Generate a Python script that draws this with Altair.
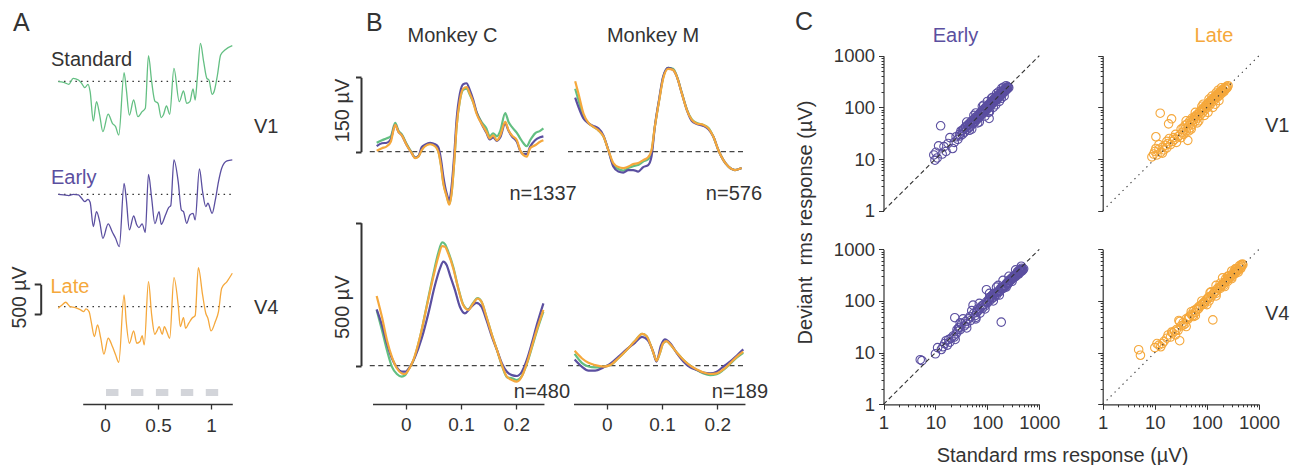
import altair as alt
import pandas as pd

# ---------------- Panel A: single-site example traces (time s, amplitude uV) ----------------
a_std_t = [-0.44, -0.39, -0.34, -0.30, -0.25, -0.22, -0.19, -0.16, -0.14, -0.11, -0.08, -0.05, -0.02, 0.03, 0.07,
           0.10, 0.13, 0.18, 0.20, 0.23, 0.27, 0.31, 0.35, 0.38, 0.41, 0.44, 0.47, 0.50, 0.53, 0.55,
           0.58, 0.61, 0.65, 0.70, 0.74, 0.77, 0.80, 0.83, 0.85, 0.87, 0.90, 0.93, 0.96, 0.98, 1.01,
           1.03, 1.06, 1.09, 1.13, 1.20]
a_std_v = [-6, -17, -51, 50, 22, -34, -107, -51, -175, -669, -343, -568, -848, -551, -708,
           -764, -904, 145, -118, -568, -315, -596, -511, -455, 432, -6, -332, -371, -612, -568,
           -416, -556, 218, -342, -163, -371, -343, -130, -315, 50, 639, 331, 50, 22, -219,
           -163, 106, 443, 527, 600]
a_early_t = [-0.44, -0.39, -0.34, -0.30, -0.25, -0.22, -0.19, -0.16, -0.14, -0.11, -0.08, -0.05, -0.02, 0.03, 0.07,
             0.10, 0.135, 0.18, 0.20, 0.23, 0.27, 0.30, 0.32, 0.35, 0.38, 0.41, 0.44, 0.47, 0.51, 0.53,
             0.57, 0.60, 0.62, 0.65, 0.69, 0.72, 0.74, 0.77, 0.80, 0.83, 0.85, 0.89, 0.92, 0.95, 0.97,
             1.01, 1.04, 1.07, 1.10, 1.15, 1.20]
a_early_v = [0, -11, -22, 0, -11, -67, -123, -84, -135, -544, -292, -460, -741, -499, -640,
             -741, -881, 185, -67, -600, -365, -516, -561, -499, -640, 337, -67, -494, -292, -505,
             -348, -224, -191, 578, 213, -264, -292, -488, -348, -320, -432, 426, 45, -208, -151,
             -320, -95, 213, 438, 561, 578]
a_late_t = [-0.44, -0.41, -0.37, -0.33, -0.28, -0.23, -0.20, -0.18, -0.15, -0.13, -0.10, -0.07, -0.04, -0.01, 0.03,
            0.07, 0.10, 0.13, 0.18, 0.20, 0.23, 0.27, 0.30, 0.33, 0.35, 0.37, 0.41, 0.44, 0.47, 0.49,
            0.51, 0.54, 0.56, 0.58, 0.61, 0.65, 0.69, 0.71, 0.74, 0.76, 0.79, 0.82, 0.85, 0.88, 0.92,
            0.95, 0.97, 1.00, 1.04, 1.07, 1.10, 1.15, 1.20]
a_late_v = [-28, 17, 73, 0, -17, -56, -84, -39, -84, -252, -505, -309, -533, -802, -533,
            -673, -813, -937, 196, -252, -617, -410, -617, -589, -488, -645, 421, -140, -466, -410,
            -337, -466, -337, -410, -533, 488, 28, -337, -185, -365, -280, -196, -151, 656, 196,
            -112, -196, -410, -252, -84, 309, 421, 561]
stim_on = [0.01, 0.245, 0.48, 0.715, 0.95]
stim_off = [0.127, 0.362, 0.597, 0.832, 1.067]
a_ticks = [0, 0.5, 1]

# ---------------- Panel B: average evoked responses (time s, uV) ----------------
bc1_t = [-0.0525, -0.043, -0.034, -0.027, -0.019, -0.013, -0.007, 0.002, 0.011, 0.017, 0.023, 0.029, 0.035, 0.044,
         0.053, 0.059, 0.064, 0.068, 0.074, 0.079, 0.083, 0.088, 0.092, 0.098, 0.104, 0.110, 0.116, 0.122,
         0.128, 0.137, 0.146, 0.152, 0.158, 0.165, 0.171, 0.180, 0.186, 0.192, 0.201, 0.207, 0.213, 0.219,
         0.225, 0.234, 0.243, 0.249]
bc1_std = [18, 23, 27, 31, 58, 42, 35, 15, -2, -12, -9, 4, 12, 16, 12, 1, -28, -62, -88, -105,
           -83, -16, 50, 103, 125, 127, 115, 100, 80, 60, 47, 31, 37, 31, 42, 78, 60, 50, 38, 27,
           17, 11, 23, 37, 42, 47]
bc1_early = [11, 17, 18, 25, 54, 40, 33, 13, -3, -12, -9, 9, 14, 18, 15, 9, -17, -50, -84, -97,
             -70, -3, 64, 117, 136, 138, 124, 105, 80, 57, 38, 25, 29, 22, 29, 57, 42, 31, 20, 2,
             -5, -5, 10, 23, 29, 31]
bc1_late = [2, 7, 11, 20, 54, 40, 33, 13, -3, -13, -10, 3, 11, 15, 11, 0, -30, -64, -90, -107,
            -84, -17, 50, 104, 127, 130, 117, 100, 77, 57, 40, 27, 33, 23, 33, 60, 43, 33, 23, 3,
            -7, -10, 7, 13, 20, 23]

bm1_t = [-0.057, -0.051, -0.042, -0.033, -0.024, -0.015, -0.006, 0.003, 0.012, 0.021, 0.030, 0.039, 0.048, 0.057,
         0.066, 0.075, 0.081, 0.087, 0.095, 0.102, 0.111, 0.120, 0.127, 0.136, 0.145, 0.154, 0.163, 0.175,
         0.184, 0.193, 0.202, 0.211, 0.220, 0.232, 0.244]
bm1_std = [127, 104, 70, 58, 50, 43, 31, 3, -27, -35, -38, -33, -29, -27, -20, -15, 0, 50, 105, 149,
           169, 167, 152, 118, 85, 65, 58, 54, 48, 30, 3, -17, -30, -37, -33]
bm1_early = [109, 90, 67, 57, 52, 47, 33, 3, -30, -40, -42, -37, -37, -40, -31, -27, -10, 50, 107, 151,
             169, 165, 151, 117, 84, 62, 56, 52, 45, 30, 3, -17, -30, -37, -33]
bm1_late = [142, 117, 77, 58, 50, 43, 31, 3, -23, -31, -33, -30, -25, -23, -17, -11, 3, 50, 104, 147,
            167, 165, 151, 117, 84, 64, 57, 54, 47, 30, 3, -17, -30, -37, -33]

bc4_t = [-0.0525, -0.043, -0.034, -0.025, -0.016, -0.007, -0.001, 0.005, 0.014, 0.026, 0.038, 0.050, 0.059,
         0.066, 0.071, 0.077, 0.086, 0.095, 0.104, 0.113, 0.122, 0.130, 0.137, 0.146, 0.156, 0.165,
         0.174, 0.183, 0.192, 0.201, 0.210, 0.219, 0.228, 0.237, 0.249]
bc4_std = [195, 125, 55, -3, -29, -38, -33, -13, 18, 100, 210, 320, 395, 431, 425, 398, 345, 272, 214,
           197, 220, 236, 224, 171, 107, 55, 0, -40, -44, -50, -36, 6, 62, 120, 189]
bc4_late = [244, 171, 90, 31, -9, -27, -29, -15, 20, 101, 206, 311, 381, 418, 416, 392, 340, 270, 212,
            195, 218, 235, 224, 171, 107, 55, 2, -38, -50, -56, -38, 8, 66, 125, 195]
bc4e_t = [-0.0525, -0.043, -0.034, -0.025, -0.016, -0.007, -0.001, 0.008, 0.017, 0.029, 0.041, 0.053, 0.062,
          0.068, 0.074, 0.080, 0.089, 0.098, 0.107, 0.116, 0.128, 0.137, 0.146, 0.156, 0.165, 0.174,
          0.183, 0.192, 0.201, 0.210, 0.219, 0.228, 0.237, 0.249]
bc4_early = [197, 142, 78, 26, -6, -21, -21, -3, 31, 96, 183, 282, 340, 364, 352, 317, 265, 206, 183,
             200, 220, 206, 160, 101, 55, 8, -21, -33, -36, -21, 20, 78, 142, 218]

bm4_t = [-0.058, -0.045, -0.033, -0.021, -0.006, 0.006, 0.021, 0.036, 0.051, 0.064, 0.072, 0.080, 0.087,
         0.090, 0.096, 0.102, 0.108, 0.116, 0.127, 0.139, 0.151, 0.163, 0.175, 0.187, 0.199, 0.211,
         0.223, 0.235, 0.247]
bm4_std = [41, 10, -3, -6, -3, 2, 26, 55, 86, 111, 104, 69, 31, 17, 43, 78, 86, 72, 45, 20, 0, -15,
           -27, -33, -30, -15, 6, 28, 45]
bm4_late = [52, 26, 10, 2, -3, 2, 26, 55, 86, 111, 104, 69, 31, 17, 43, 78, 86, 72, 45, 20, 0, -13,
            -24, -29, -27, -13, 8, 31, 49]
bm4e_t = [-0.058, -0.045, -0.033, -0.021, -0.006, 0.006, 0.021, 0.036, 0.051, 0.064, 0.074, 0.084, 0.090,
          0.098, 0.105, 0.116, 0.127, 0.139, 0.151, 0.163, 0.175, 0.187, 0.199, 0.211, 0.223, 0.235, 0.247]
bm4_early = [22, -3, -17, -17, -6, 6, 31, 57, 80, 101, 90, 49, 14, 70, 92, 76, 43, 14, -6, -15, -24,
             -27, -21, -3, 14, 35, 57]
b_ticks = [0, 0.1, 0.2]

# ---------------- Panel C: rms responses, standard vs deviant (uV) ----------------
ev1_x = [9.3, 9.8, 10.2, 10.8, 11.5, 12.6, 13.5, 14.6, 16, 17.5, 19, 21.4, 23, 25, 27, 29, 31, 33, 35, 36,
         38, 40, 42, 44, 46, 48, 50, 52, 55, 58, 60, 63, 66, 70, 73, 76, 80, 84, 88, 92, 96, 100, 105, 108,
         110, 115, 120, 125, 130, 135, 140, 145, 150, 155, 160, 166, 172, 178, 185, 190, 196, 202, 210, 218,
         225, 232, 240, 250, 258, 45, 65, 90, 130, 170, 210, 30, 55, 75, 140, 200, 33, 37, 41, 45, 49, 53,
         57, 62, 67, 72, 78, 83, 87, 93, 98, 103, 113, 118, 123, 128, 133, 143, 148, 158, 163, 175, 182, 195,
         205, 215, 228, 235, 245, 40, 50, 60, 70, 80, 90, 100, 110, 120, 130, 150, 170, 190, 210, 230,
         45, 55, 65, 85, 105, 125, 145, 165, 185, 205]
ev1_y = [12, 9.5, 13.5, 10.5, 18, 44, 12.5, 17.4, 14, 20, 26, 16, 21, 27, 24, 30, 35, 30, 38, 33,
         42, 37, 46, 40, 50, 44, 55, 48, 58, 53, 65, 58, 70, 64, 78, 72, 88, 78, 95, 86, 104, 95, 112, 61,
         102, 125, 112, 135, 122, 148, 130, 155, 140, 168, 150, 175, 160, 190, 172, 200, 185, 215, 198, 225,
         210, 238, 225, 245, 240, 47, 62, 90, 135, 170, 212, 28, 52, 80, 142, 195, 36, 40, 44, 42, 52, 50,
         62, 60, 66, 75, 76, 86, 84, 98, 92, 108, 110, 122, 120, 130, 138, 140, 150, 160, 165, 178, 185, 200,
         205, 218, 225, 232, 250, 52, 38, 78, 52, 105, 68, 130, 82, 150, 100, 185, 130, 235, 165, 262,
         36, 70, 50, 110, 80, 155, 112, 200, 150, 245]
lv1_x = [8.8, 9.5, 10, 10.5, 10.5, 11, 12, 12.7, 13, 14, 15, 16, 17, 18, 18.4, 20, 21, 22, 24, 26,
         28, 30, 32, 34, 36, 38, 40, 43, 45, 48, 50, 53, 56, 60, 63, 66, 70, 74, 78, 82,
         86, 90, 95, 100, 105, 110, 115, 120, 126, 132, 138, 145, 152, 160, 168, 176, 185, 195, 205, 215,
         225, 235, 245, 255, 35, 60, 100, 150, 200, 25, 32, 38, 42, 47, 52, 58, 64, 72, 80, 88,
         98, 108, 118, 130, 142, 155, 170, 185, 200, 220, 240, 12, 14, 17, 23, 19,
         40, 50, 60, 70, 80, 90, 110, 130, 150, 170, 190, 45, 65, 85, 105, 125, 145, 165]
lv1_y = [11, 12.5, 14, 16, 27, 12, 15.5, 77, 13.5, 17, 15, 18.5, 16.5, 20, 48, 19, 60, 22, 24, 21,
         27, 29, 26, 33, 30, 38, 35, 23, 44, 40, 52, 47, 58, 54, 68, 62, 75, 70, 85, 78,
         95, 88, 105, 98, 118, 108, 130, 120, 140, 132, 155, 145, 165, 158, 180, 170, 195, 188, 210, 205,
         225, 230, 240, 262, 40, 66, 110, 160, 215, 30, 38, 45, 48, 55, 62, 65, 72, 82, 90, 100,
         112, 122, 135, 148, 160, 175, 190, 205, 222, 240, 255, 19, 13, 22, 26, 25,
         55, 38, 80, 55, 105, 70, 145, 100, 190, 135, 240, 35, 50, 115, 80, 165, 115, 215]
ev4_x = [5.1, 5.5, 10, 11, 13, 14, 15, 16, 17, 18, 19, 20, 22, 23.6, 24, 25, 27, 28, 30, 32,
         34, 36, 38, 40, 43, 46, 48, 53, 55, 58, 60, 62, 66, 70, 72, 75, 80, 85, 90, 96,
         95, 100, 105, 110, 115, 120, 125, 130, 135, 140, 150, 160, 162, 170, 180, 185, 190, 200, 210, 220,
         230, 240, 250, 260, 275, 290, 300, 320, 340, 360, 380, 400, 420, 440, 460, 480, 500, 350, 300, 250,
         200, 220, 240, 260, 280, 300, 320, 340, 360, 380, 400, 420, 440, 460, 480, 380, 420, 460, 150, 170,
         190, 125, 140, 110, 80, 65, 23, 26, 29, 30, 40, 50, 60, 70, 90, 110, 130, 150, 170, 200, 230, 260,
         300, 350, 400, 450]
ev4_y = [7.3, 7, 9.5, 12.5, 11.5, 13, 15, 17, 14, 18, 16, 19, 21, 47.5, 18, 23, 26, 30, 28, 36,
         45, 33, 40, 36, 45, 50, 42, 83, 58, 52, 45, 60, 64, 70, 58, 76, 72, 85, 80, 165,
         95, 92, 105, 100, 120, 110, 115, 135, 120, 130, 145, 150, 200, 160, 175, 39, 170, 190, 185, 200,
         215, 225, 230, 250, 255, 275, 270, 300, 310, 330, 350, 360, 380, 390, 400, 410, 420, 300, 280, 215,
         175, 190, 210, 230, 250, 265, 285, 295, 310, 330, 340, 360, 370, 380, 395, 370, 400, 430, 130, 150,
         180, 130, 140, 115, 82, 70, 20, 28, 31, 38, 30, 65, 48, 90, 70, 140, 100, 185, 130, 250, 185, 300,
         240, 400, 330, 470]
lv4_x = [4.9, 5.3, 10, 11, 12, 13, 14, 15, 17, 18, 20, 21, 22, 24, 25, 26, 28, 30, 29, 32,
         35, 38, 40, 43, 46, 50, 53, 56, 60, 63, 66, 70, 75, 80, 85, 90, 95, 100, 105, 110,
         115, 120, 125, 130, 135, 140, 150, 160, 170, 180, 190, 200, 215, 230, 245, 260, 280, 300, 320, 340,
         360, 380, 400, 430, 460, 490, 150, 200, 250, 300, 350, 150, 180, 210, 250, 300, 350, 400, 450, 480,
         420, 380, 330, 270, 230, 110, 90, 70, 55, 45, 35, 30, 40, 50, 60, 80, 100, 120, 150, 180, 220, 260,
         300, 350, 400, 450]
lv4_y = [11.4, 8.9, 12.5, 15, 14, 13, 15, 16.5, 19, 22, 20, 25, 24, 26, 22, 28, 27, 17, 42, 33,
         38, 36, 45, 44, 50, 55, 52, 65, 60, 70, 68, 78, 80, 85, 92, 95, 100, 108, 115, 120,
         145, 118, 130, 43, 140, 150, 155, 175, 180, 190, 200, 210, 225, 240, 260, 270, 290, 310, 330, 350,
         370, 390, 410, 440, 470, 500, 200, 280, 300, 380, 420, 140, 175, 200, 240, 290, 340, 390, 430, 520,
         480, 420, 370, 310, 270, 100, 88, 72, 50, 48, 34, 40, 32, 62, 52, 100, 85, 150, 125, 220, 190, 300,
         270, 410, 360, 500]
diag = [1, 1000]
major_ticks = [1, 10, 100, 1000]
minor_ticks = [2, 3, 4, 5, 6, 7, 8, 9, 20, 30, 40, 50, 60, 70, 80, 90, 200, 300, 400, 500, 600, 700, 800, 900]

# ---------------- layout helpers (page pixels -> view pixels) ----------------
W, H = 1286, 457
def X(p):
    return p - 8
def Y(p):
    return p - 8

FONT = "Liberation Sans"
INK = "#333333"
C_STD = "#63bf82"
C_EAR = "#5b4fa0"
C_LAT = "#f5a83c"
GRAY = "#d3d5da"
ONE = pd.DataFrame({"k": [0]})

layers = []


def lin(domain, rng):
    return alt.Scale(domain=domain, range=rng, zero=False, nice=False)


def logsc(rng):
    return alt.Scale(type="log", domain=[1, 1000], range=rng, nice=False)


def txt(s, px, py, size=20, color=INK, align="left", baseline="alphabetic"):
    layers.append(alt.Chart(pd.DataFrame({"s": [s]})).mark_text(
        align=align, baseline=baseline, fontSize=size, color=color, font=FONT
    ).encode(text="s:N", x=alt.value(X(px)), y=alt.value(Y(py))))


def hrule(x0, x1, dash, xs, ys, width=1.2, color=INK):
    layers.append(alt.Chart(ONE).mark_rule(color=color, strokeDash=dash, strokeWidth=width).encode(
        x=alt.XDatum(x0, scale=xs, axis=None), x2=alt.X2Datum(x1), y=alt.YDatum(0, scale=ys, axis=None)))


def trace(t, v, color, xs, ys, width, xaxis=None, yaxis=None):
    layers.append(alt.Chart(pd.DataFrame({"t": t, "v": v})).mark_line(
        color=color, strokeWidth=width, interpolate="monotone"
    ).encode(x=alt.X("t:Q", scale=xs, axis=xaxis), y=alt.Y("v:Q", scale=ys, axis=yaxis)))


def bracket_axis(x_px, vals, title, title_dx, title_cy, tick, tsize=20):
    return alt.Axis(orient="left", offset=-X(x_px), values=vals, labels=False, tickSize=tick,
                    tickWidth=2, domainWidth=2, title=title, titleX=title_dx, titleY=Y(title_cy),
                    titleAngle=270, titleAlign="center", titleBaseline="middle", titleFontSize=tsize,
                    titleFontWeight="normal", titleColor=INK)


def time_axis(vals, pad):
    return alt.Axis(orient="bottom", offset=Y(404) - H, values=vals, format="~g", tickSize=5,
                    labelPadding=pad, labelFontSize=19, labelFlush=False, labelOverlap=False,
                    title=None, domainWidth=1.3, tickWidth=1.3)


# ---------------- Panel A ----------------
A_PX = 29.7  # pixels per 500 uV


def a_xs():
    return lin([-0.21, 1.2], [X(82.7), X(232.3)])


for t, v, col, base in [(a_std_t, a_std_v, C_STD, 81.3), (a_early_t, a_early_v, C_EAR, 194.3)]:
    ys = lin([-500, 500], [Y(base) + A_PX, Y(base) - A_PX])
    hrule(-0.44, 1.2, [1.5, 4.2], a_xs(), ys)
    trace(t, v, col, a_xs(), ys, 1.3)

late_ys = lin([-125, 375], [Y(314), Y(284.3)])
hrule(-0.44, 1.2, [1.5, 4.2], a_xs(), late_ys)
trace(a_late_t, a_late_v, C_LAT, a_xs(), late_ys, 1.3,
      xaxis=time_axis(a_ticks, 7),
      yaxis=bracket_axis(40.7, [-125, 375], "500 µV", 19.5 - 40.7, 297, 6.5, tsize=19.5))
layers.append(alt.Chart(pd.DataFrame({"on": stim_on, "off": stim_off})).mark_rect(color=GRAY).encode(
    x=alt.X("on:Q", scale=a_xs(), axis=None), x2="off:Q", y=alt.value(Y(389)), y2=alt.value(Y(396))))

# ---------------- Panel B ----------------
B_SLOPE = 553.0


def b_panel(series, zero_px, base_py, top_py, vtop, dash_x, bracket=None, xaxis=False):
    def xs():
        return lin([-0.06, 0.25], [X(zero_px - 0.06 * B_SLOPE), X(zero_px + 0.25 * B_SLOPE)])

    def ys():
        return lin([0, vtop], [Y(base_py), Y(top_py)])
    hrule(dash_x[0], dash_x[1], [5, 3.5], xs(), ys(), color="#444444")
    first = True
    for t, v, color in series:
        yax = None
        xax = None
        if first and bracket is not None:
            yax = bracket_axis(361, [0, vtop], bracket[0], -19, bracket[1], 5.5)
        if first and xaxis:
            xax = time_axis(b_ticks, 6)
        trace(t, v, color, xs(), ys(), 2.2, xaxis=xax, yaxis=yax)
        first = False


b_panel([(bc1_t, bc1_std, C_STD), (bc1_t, bc1_early, C_EAR), (bc1_t, bc1_late, C_LAT)],
        405.7, 151.7, 77.3, 150, [-0.065, 0.25], bracket=("150 µV", 110))
b_panel([(bm1_t, bm1_std, C_STD), (bm1_t, bm1_early, C_EAR), (bm1_t, bm1_late, C_LAT)],
        606.7, 151.7, 77.3, 150, [-0.07, 0.247])
b_panel([(bc4_t, bc4_std, C_STD), (bc4e_t, bc4_early, C_EAR), (bc4_t, bc4_late, C_LAT)],
        405.7, 365.7, 222.7, 500, [-0.065, 0.25], bracket=("500 µV", 306.7), xaxis=True)
b_panel([(bm4_t, bm4_std, C_STD), (bm4e_t, bm4_early, C_EAR), (bm4_t, bm4_late, C_LAT)],
        606.7, 365.7, 222.7, 500, [-0.07, 0.247], xaxis=True)

# ---------------- Panel C ----------------


def log_axis(orient, offset, labels, minor=False, **kw):
    if minor:
        return alt.Axis(orient=orient, offset=offset, values=minor_ticks, labels=False, domain=False,
                        tickSize=2.5, tickWidth=1, title=None)
    return alt.Axis(orient=orient, offset=offset, values=major_ticks, labels=labels, format="d",
                    tickSize=5, tickWidth=1, labelFontSize=18.5, labelPadding=4, labelFlush=False,
                    labelOverlap=False, domainWidth=1.2, **kw)


def c_panel(xv, yv, color, xr, yr, dash, ylab, xlab, ytitle=None, xtitle=None):
    left_px = xr[0] + 8
    bottom_py = yr[0] + 8
    ykw = {"title": None}
    if ytitle:
        ykw = dict(title=ytitle, titleX=805 - left_px, titleY=Y(222), titleAngle=270, titleAlign="center",
                   titleBaseline="middle", titleFontSize=20, titleFontWeight="normal", titleColor=INK)
    yax = log_axis("left", -(left_px - 8), ylab, **ykw)
    xax = None
    xmin = None
    if xlab is not None:
        xkw = {"title": None}
        if xtitle:
            xkw = dict(title=xtitle, titleX=X(1062), titleY=461 - bottom_py, titleAlign="center",
                       titleBaseline="alphabetic", titleFontSize=20, titleFontWeight="normal", titleColor=INK)
        xax = log_axis("bottom", Y(bottom_py) - H, xlab, **xkw)
        xmin = log_axis("bottom", Y(bottom_py) - H, False, minor=True)
    ymin = log_axis("left", -(left_px - 8), False, minor=True)
    layers.append(alt.Chart(pd.DataFrame({"x": xv, "y": yv})).mark_point(
        shape="circle", filled=False, size=72, strokeWidth=1.1, color=color, opacity=1
    ).encode(x=alt.X("x:Q", scale=logsc(xr), axis=xax), y=alt.Y("y:Q", scale=logsc(yr), axis=yax)))
    layers.append(alt.Chart(pd.DataFrame({"d": diag})).mark_line(
        color=INK, strokeWidth=1.1, strokeDash=dash
    ).encode(x=alt.X("d:Q", scale=logsc(xr), axis=xmin), y=alt.Y("d:Q", scale=logsc(yr), axis=ymin)))


CXL = [X(883.5), X(1039.3)]
CXR = [X(1102.7), X(1259)]
CYT = [Y(210.7), Y(55.7)]
CYB = [Y(404.3), Y(249.3)]
DASH_E = [4.5, 3]
DASH_L = [1.3, 4.3]

c_panel(ev1_x, ev1_y, C_EAR, CXL, CYT, DASH_E, True, None, ytitle="Deviant\u00a0 rms response (µV)")
c_panel(lv1_x, lv1_y, C_LAT, CXR, CYT, DASH_L, False, None)
c_panel(ev4_x, ev4_y, C_EAR, CXL, CYB, DASH_E, True, True, xtitle="Standard rms response (µV)")
c_panel(lv4_x, lv4_y, C_LAT, CXR, CYB, DASH_L, False, True)

# ---------------- text annotations ----------------
txt("A", 13, 30.5, size=25)
txt("B", 366, 30.5, size=25)
txt("C", 795, 30, size=25)
txt("Standard", 51, 66)
txt("Early", 51, 184.3, color=C_EAR)
txt("Late", 50.5, 292.7, color=C_LAT)
txt("V1", 254, 133)
txt("V4", 254, 314)
txt("Monkey C", 452.5, 41.7, align="center")
txt("Monkey M", 653, 41.7, align="center")
txt("n=1337", 576.7, 200, align="right")
txt("n=576", 762, 200, align="right")
txt("n=480", 570, 398, align="right")
txt("n=189", 768, 398, align="right")
txt("Early", 955.5, 41.7, color=C_EAR, align="center")
txt("Late", 1214, 41.7, color=C_LAT, align="center")
txt("V1", 1265, 131.7)
txt("V4", 1265, 320)

chart = alt.layer(*layers).resolve_scale(
    x="independent", y="independent"
).resolve_axis(
    x="independent", y="independent"
).properties(
    width=W, height=H, padding=0, autosize=alt.AutoSizeParams(type="none"), background="white"
).configure(font=FONT).configure_view(stroke=None).configure_axis(
    grid=False, domainColor=INK, tickColor=INK, labelColor=INK, titleColor=INK,
    labelFont=FONT, titleFont=FONT, titleFontWeight="normal"
)

chart.save("out.html", embed_options={"renderer": "svg", "actions": False})
